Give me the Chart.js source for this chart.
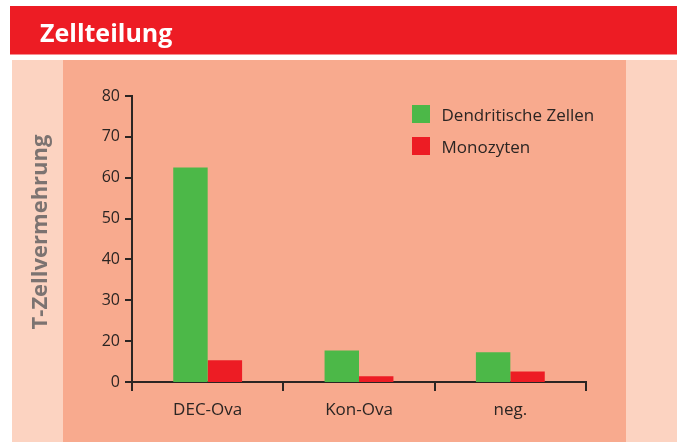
<!DOCTYPE html>
<html>
<head>
<meta charset="utf-8">
<script src="https://cdn.jsdelivr.net/npm/chart.js@4/dist/chart.umd.min.js"></script>
<style>
  html, body { margin: 0; padding: 0; background: #ffffff; }
  #wrap { position: relative; width: 681px; height: 442px; }
  canvas { display: block; }
</style>
</head>
<body>
<div id="wrap"><canvas id="c" width="681" height="442"></canvas></div>
<script>
// ---- data ----
const chartTitle = 'Zellteilung';
const categories = ['DEC-Ova', 'Kon-Ova', 'neg.'];
const seriesNames = ['Dendritische Zellen', 'Monozyten'];
const dendritischeZellen = [62.5, 17.7, 17.3];
const monozyten = [15.3, 11.4, 12.6];
const yTickValues = [10, 20, 30, 40, 50, 60, 70, 80];
const yTickLabels = ['0', '20', '30', '40', '50', '60', '70', '80'];
const yAxisTitle = 'T-Zellvermehrung';

// ---- styles ----
const FONT = '"Open Sans", "Noto Sans", sans-serif';
const C = {
  red: '#ed1c24', green: '#4cb848', salmon: '#f8aa8e', peach: '#fcd3c1',
  ink: '#2b2523', grey: '#7c7371', white: '#ffffff'
};

const decorPlugin = {
  id: 'decor',
  beforeDraw(chart) {
    const ctx = chart.ctx;
    ctx.save();
    ctx.fillStyle = C.white; ctx.fillRect(0, 0, 681, 442);
    ctx.fillStyle = C.red; ctx.fillRect(10, 6, 667, 48.5);
    ctx.fillStyle = C.peach; ctx.fillRect(12, 60, 665, 382);
    ctx.fillStyle = C.salmon; ctx.fillRect(63, 60, 563, 382);
    ctx.fillStyle = C.white;
    ctx.font = 'bold 25px ' + FONT;
    ctx.textBaseline = 'alphabetic';
    ctx.textAlign = 'left';
    ctx.fillText(chartTitle, 40, 42);
    // y axis title
    ctx.translate(47, 232);
    ctx.rotate(-Math.PI / 2);
    ctx.fillStyle = C.grey;
    ctx.font = 'bold 22px ' + FONT;
    ctx.textAlign = 'center';
    ctx.fillText(yAxisTitle, 0, 0);
    ctx.restore();
  },
  afterDatasetsDraw(chart) {
    const ctx = chart.ctx;
    ctx.save();
    ctx.font = '17px ' + FONT;
    ctx.textBaseline = 'alphabetic';
    ctx.textAlign = 'left';
    chart.data.datasets.forEach((ds, i) => {
      ctx.fillStyle = ds.backgroundColor;
      ctx.fillRect(412, 105 + 32 * i, 18, 18);
      ctx.fillStyle = C.ink;
      ctx.fillText(ds.label, 441.5, 121 + 32 * i);
    });
    ctx.restore();
  }
};

Chart.defaults.font.family = FONT;

new Chart(document.getElementById('c'), {
  type: 'bar',
  data: {
    labels: categories,
    datasets: [
      { label: seriesNames[0], data: dendritischeZellen, backgroundColor: C.green,
        categoryPercentage: 0.455, barPercentage: 1.0, borderWidth: 0 },
      { label: seriesNames[1], data: monozyten, backgroundColor: C.red,
        categoryPercentage: 0.455, barPercentage: 1.0, borderWidth: 0 }
    ]
  },
  options: {
    responsive: false,
    animation: false,
    devicePixelRatio: 1,
    layout: { padding: { top: 96, right: 95, bottom: 0, left: 0 } },
    plugins: { legend: { display: false }, title: { display: false }, tooltip: { enabled: false } },
    scales: {
      x: {
        offset: true,
        grid: { display: true, offset: true, drawOnChartArea: false, drawTicks: true,
                tickLength: 9, color: C.ink, lineWidth: 2 },
        border: { display: true, color: C.ink, width: 2 },
        ticks: { color: C.ink, font: { size: 17 }, padding: 9, maxRotation: 0 },
        afterFit(s) { s.height = 60; }
      },
      y: {
        min: 10, max: 80,
        afterBuildTicks(s) { s.ticks = yTickValues.map(v => ({ value: v })); },
        grid: { display: true, drawOnChartArea: false, drawTicks: true,
                tickLength: 7, color: C.ink, lineWidth: 2 },
        border: { display: true, color: C.ink, width: 2 },
        ticks: { color: C.ink, font: { size: 16 }, padding: 5,
                 callback: (v, i) => yTickLabels[i] },
        afterFit(s) { s.width = 132; }
      }
    }
  },
  plugins: [decorPlugin]
});
</script>
</body>
</html>
